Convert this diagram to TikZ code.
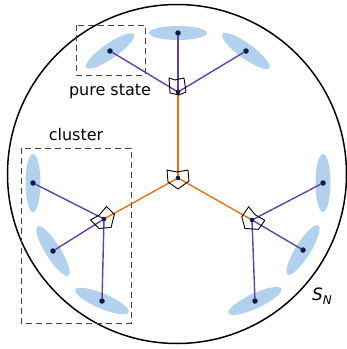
\documentclass[tikz,border=0pt]{standalone}
\usepackage{fontspec}
\setmainfont{DejaVu Sans}
\definecolor{cloud}{RGB}{178,209,238}
\definecolor{grape}{RGB}{102,62,170}
\definecolor{ember}{RGB}{236,112,18}
\definecolor{navy}{RGB}{14,28,66}
\begin{document}
\begin{tikzpicture}[
  x=1pt, y=-1pt,
  leaf/.style={circle, fill=navy, inner sep=0pt, minimum size=5.5pt},
  blob/.style={fill=cloud},
  bond/.style={draw=grape, line width=1.4pt},
  trunk/.style={draw=ember, line width=1.4pt},
  hubmark/.style={draw=black, line width=0.9pt, line join=round},
  frame/.style={draw=black!75, dash pattern=on 6pt off 4pt, line width=1pt},
  lbl/.style={font=\fontsize{16}{18}\selectfont, inner sep=0pt}
]
  \useasboundingbox (0,0) rectangle (347,349);

  % State space
  \draw[line width=1.5pt] (177,174) circle [radius=169.5pt];
  \node[lbl, font=\fontsize{17}{19}\selectfont\itshape] (sn) at (322,296) {S\raisebox{-0.45ex}{\fontsize{12}{14}\selectfont N}};

  % Hubs
  \coordinate (c) at (178,178);
  \coordinate (top) at (178,92);
  \coordinate (lft) at (104,219);
  \coordinate (rgt) at (252,220);

  % Spread of the states
  \fill[blob] (110,51) ellipse [x radius=29pt, y radius=7.5pt, rotate=35];
  \fill[blob] (178,33) ellipse [x radius=29pt, y radius=7pt];
  \fill[blob] (246,51) ellipse [x radius=29pt, y radius=7.5pt, rotate=-36];
  \fill[blob] (33,183) ellipse [x radius=7.5pt, y radius=29pt];
  \fill[blob] (53,251) ellipse [x radius=29pt, y radius=7.5pt, rotate=-58];
  \fill[blob] (102,301) ellipse [x radius=29pt, y radius=7.5pt, rotate=-23];
  \fill[blob] (323,183) ellipse [x radius=7.5pt, y radius=29pt];
  \fill[blob] (303,250) ellipse [x radius=29pt, y radius=7.5pt, rotate=58];
  \fill[blob] (255,301) ellipse [x radius=29pt, y radius=7.5pt, rotate=25];

  % Leaves
  \node[leaf] (t1) at (110,51) {};
  \node[leaf] (t2) at (178,33) {};
  \node[leaf] (t3) at (246,51) {};
  \node[leaf] (l1) at (33,183) {};
  \node[leaf] (l2) at (53,251) {};
  \node[leaf] (l3) at (102,301) {};
  \node[leaf] (r1) at (323,183) {};
  \node[leaf] (r2) at (303,250) {};
  \node[leaf] (r3) at (255,301) {};

  % Boxes and labels
  \draw[frame] (76,25) rectangle (145,75);
  \node[lbl] (pure) at (110,92) {pure state};
  \draw[frame] (21,148) rectangle (131,323);
  \node[lbl] (clu) at (76,135) {cluster};

  % Tree
  \draw[trunk] (c) -- (top);
  \draw[trunk] (c) -- (lft);
  \draw[trunk] (c) -- (rgt);
  \foreach \a in {t1,t2,t3} \draw[bond] (top) -- (\a);
  \foreach \a in {l1,l2,l3} \draw[bond] (lft) -- (\a);
  \foreach \a in {r1,r2,r3} \draw[bond] (rgt) -- (\a);

  % Markers at the hubs
  \draw[hubmark, shift={(c)}] (-11,-8) -- (-1,-6) -- (10,-8) -- (11,3) -- (0,11) -- (-10,4) -- cycle;
  \draw[hubmark, shift={(top)}] (-9,-14) -- (-3,-12) -- (6,-14) -- (8,0) -- (1,3) -- (-8,1) -- cycle;
  \draw[hubmark, shift={(lft)}, rotate=40] (-11,-8) -- (-1,-6) -- (10,-8) -- (11,3) -- (0,11) -- (-10,4) -- cycle;
  \draw[hubmark, shift={(rgt)}, rotate=-40] (-11,-8) -- (-1,-6) -- (10,-8) -- (11,3) -- (0,11) -- (-10,4) -- cycle;
  \foreach \h in {c,top,lft,rgt} \fill[navy] (\h) circle [radius=2.3pt];
\end{tikzpicture}
\end{document}
